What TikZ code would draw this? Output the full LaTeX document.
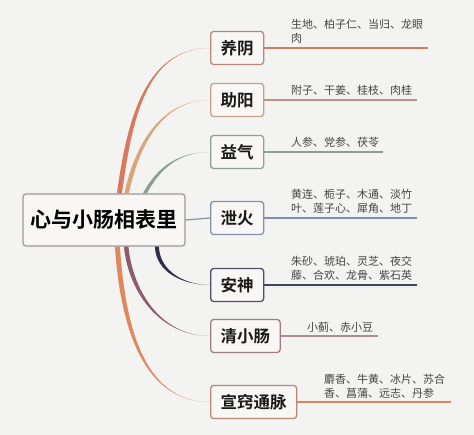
\documentclass[tikz,border=0pt]{standalone}
\usepackage{fontspec}
\setmainfont{Noto Sans CJK SC}[BoldFont={Noto Sans CJK SC Bold}]
\usetikzlibrary{calc}
\definecolor{bg}{HTML}{F3F3F2}
\definecolor{boxfill}{HTML}{F8F7F6}
\definecolor{txt}{HTML}{454545}
\definecolor{cA}{HTML}{D9785C}
\definecolor{cAb}{HTML}{B8887A}
\definecolor{cB}{HTML}{D8A67A}
\definecolor{cBb}{HTML}{C4A088}
\definecolor{cC}{HTML}{8E9E98}
\definecolor{cD}{HTML}{8290AC}
\definecolor{cE}{HTML}{2E2F4C}
\definecolor{cF}{HTML}{8C5C72}
\definecolor{cFb}{HTML}{A07C88}
\definecolor{cG}{HTML}{E0875E}
\definecolor{cGb}{HTML}{B88878}
\tikzset{
  rootbox/.style={draw=gray!80, line width=1.2pt, fill=boxfill, rounded corners=3pt,
    minimum width=162pt, minimum height=52pt, inner sep=0pt, font=\fontsize{21}{24}\selectfont\bfseries, text=black},
  topic/.style={draw=#1, line width=1.3pt, fill=boxfill, rounded corners=3pt,
    minimum height=33pt, inner xsep=10pt, inner ysep=0pt, anchor=west,
    font=\fontsize{16.5}{19}\selectfont\bfseries, text=black!90},
  leaf/.style={anchor=south west, inner sep=0pt, align=left, text=txt,
    font=\fontsize{11}{14.5}\selectfont},
  leafline/.style={draw=#1, line width=1.4pt},
}
\begin{document}
\begin{tikzpicture}[x=1pt,y=-1pt]
\fill[bg] (0,0) rectangle (474,435);
\useasboundingbox (0,0) rectangle (474,435);

\node[rootbox] (root) at (104,220) {心与小肠相表里};

\node[topic=cAb] (yin) at (210,48) {养阴};
\node[topic=cBb] (yang) at (210,100) {助阳};
\node[topic=cC] (qi) at (210,152) {益气};
\node[topic=cD] (fire) at (210,218) {泄火};
\node[topic=cE!85] (shen) at (210,285) {安神};
\node[topic=cFb] (qing) at (210,336) {清小肠};
\node[topic=cGb] (xuan) at (210,402) {宣窍通脉};

% tapered curves from root
\coordinate (a1) at (root.north west -| 120,0);
\fill[cA] ($(root.north west)+(94.5,0)$) to[out=82,in=180] (yin.west) to[out=180,in=82] ($(root.north west)+(99.5,0)$) -- cycle;
\fill[cB] ($(root.north west)+(102,0)$) to[out=78,in=180] (yang.west) to[out=180,in=78] ($(root.north west)+(106.5,0)$) -- cycle;
\fill[cC] ($(root.north west)+(120.5,0)$) to[out=62,in=180] (qi.west) to[out=180,in=62] ($(root.north west)+(124.5,0)$) -- cycle;
\draw[cD, line width=1.2pt] (root.east) -- (fire.west);
\fill[cE] ($(root.south west)+(132.5,0)$) to[out=-88,in=180] (shen.west) to[out=180,in=-88] ($(root.south west)+(136.5,0)$) -- cycle;
\fill[cF] ($(root.south west)+(101.5,0)$) to[out=-84,in=180] (qing.west) to[out=180,in=-84] ($(root.south west)+(106,0)$) -- cycle;
\fill[cG] ($(root.south west)+(92.5,0)$) to[out=-86,in=180] (xuan.west) to[out=180,in=-86] ($(root.south west)+(97.5,0)$) -- cycle;

% leaf lines
\coordinate (yinE) at (428,48);
\coordinate (yangE) at (417,100);
\coordinate (qiE) at (383,152);
\coordinate (fireE) at (417,218);
\coordinate (shenE) at (417,285);
\coordinate (qingE) at (378,336);
\coordinate (xuanE) at (451,402);
\draw[leafline=cA!70!cAb] (yin.east) -- (yinE);
\draw[leafline=cAb!90] (yang.east) -- (yangE);
\draw[leafline=cC] (qi.east) -- (qiE);
\draw[leafline=cD] (fire.east) -- (fireE);
\draw[leafline=cE!90] (shen.east) -- (shenE);
\draw[leafline=cFb!80!pink] (qing.east) -- (qingE);
\draw[leafline=cG!80!cGb] (xuan.east) -- (xuanE);

% leaf texts
\node[leaf] (tyin) at (291,44) {生地、柏子仁、当归、龙眼\\肉};
\node[leaf] (tyang) at (291,96) {附子、干姜、桂枝、肉桂};
\node[leaf] (tqi) at (291,148) {人参、党参、茯苓};
\node[leaf] (tfire) at (291,214) {黄连、栀子、木通、淡竹\\叶、莲子心、犀角、地丁};
\node[leaf] (tshen) at (291,281) {朱砂、琥珀、灵芝、夜交\\藤、合欢、龙骨、紫石英};
\node[leaf] (tqing) at (307,333) {小蓟、赤小豆};
\node[leaf] (txuan) at (324,399) {麝香、牛黄、冰片、苏合\\香、菖蒲、远志、丹参};
\end{tikzpicture}
\end{document}
